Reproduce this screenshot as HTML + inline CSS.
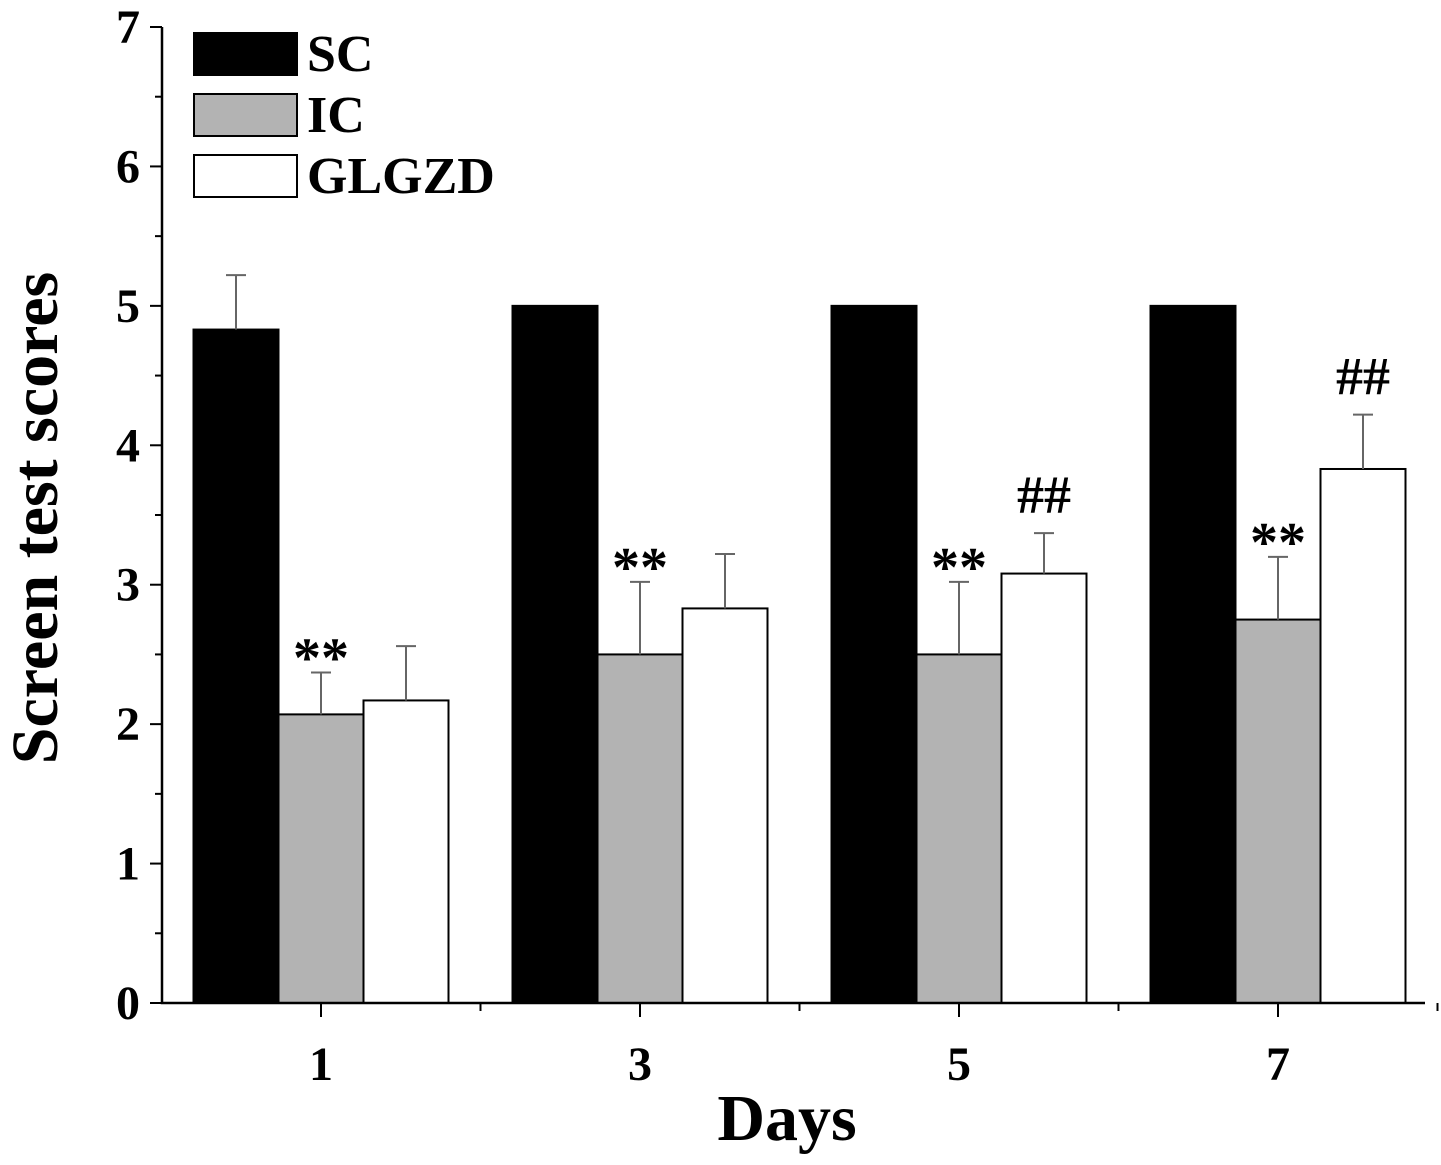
<!DOCTYPE html>
<html><head><meta charset="utf-8"><style>
body{margin:0;background:#fff;}
svg{display:block;font-family:"Liberation Serif",serif;font-weight:bold;}
</style></head><body>
<svg id="chart" width="1441" height="1165" viewBox="0 0 1441 1165">
<g id="bars"></g>
<g id="axes"></g>
<g id="legend"></g>
</svg>
<script>
const categories = ["1","3","5","7"];
const series = ["SC","IC","GLGZD"];
const scValues = [4.83,5,5,5];
const scErr = [5.22,null,null,null];
const icValues = [2.07,2.5,2.5,2.75];
const icErr = [2.37,3.02,3.02,3.2];
const glValues = [2.17,2.83,3.08,3.83];
const glErr = [2.56,3.22,3.37,4.22];
const icMarks = ["**","**","**","**"];
const glMarks = ["","","##","##"];
const yTicks = [0,1,2,3,4,5,6,7];

const NS="http://www.w3.org/2000/svg";
const x0=162,x1=1425,yBase=1003,yTop=27;
function yScale(v){return yBase-(yBase-yTop)*v/7;}
const groupW=319;
function xCenter(i){return 321+groupW*i;}
const barW=85;
function mk(tag,attrs,parent){const e=document.createElementNS(NS,tag);for(const k in attrs)e.setAttribute(k,attrs[k]);parent.appendChild(e);return e;}
const bars=document.getElementById('bars'),axes=document.getElementById('axes'),legend=document.getElementById('legend');
const fills=["#000","#b3b3b3","#fff"];
const vals=[scValues,icValues,glValues],errs=[scErr,icErr,glErr],marks=[null,icMarks,glMarks];
categories.forEach((c,i)=>{
  for(let s=0;s<3;s++){
    const v=vals[s][i];
    const bx=xCenter(i)-1.5*barW+s*barW;
    const r=mk('rect',{x:bx,y:yScale(v),width:barW,height:yBase-yScale(v),fill:fills[s],stroke:"#000","stroke-width":2},bars);
    
    
    const e=errs[s][i];
    if(e!=null){
      const cx=bx+barW/2;
      const l=mk('path',{d:`M${cx},${yScale(v)}V${yScale(e)}M${cx-10},${yScale(e)}H${cx+10}`,stroke:"#666","stroke-width":2,fill:"none"},bars);
      
      
      const m=marks[s]?marks[s][i]:"";
      if(m){
        const t=mk('text',{x:cx,y:yScale(e)+(m=="**"?4:-20),"text-anchor":"middle","font-size":m=="**"?56:54,fill:"#000"},bars);
        t.textContent=m;
        
        
      }
    }
  }
  const tk=mk('line',{x1:xCenter(i),x2:xCenter(i),y1:yBase,y2:yBase+14,stroke:"#000","stroke-width":2},axes);
  
  
  const tl=mk('text',{x:xCenter(i),y:1080,"text-anchor":"middle","font-size":48},axes);
  tl.textContent=c;
  
  
});
for(let i=0;i<=3;i++){
  const x=xCenter(i)+groupW/2;
  const mt=mk('line',{x1:x,x2:x,y1:yBase,y2:yBase+8,stroke:"#000","stroke-width":2},axes);
  
  
}
yTicks.forEach(v=>{
  const y=yScale(v);
  const t=mk('line',{x1:x0-12,x2:x0,y1:y,y2:y,stroke:"#000","stroke-width":2},axes);
  
  
  if(v<7){const m=mk('line',{x1:x0-7,x2:x0,y1:yScale(v+0.5),y2:yScale(v+0.5),stroke:"#000","stroke-width":2},axes);
  
  }
  const l=mk('text',{x:140,y:y+16,"text-anchor":"end","font-size":48},axes);
  l.textContent=v;
  
  
});
const ax=mk('path',{d:`M${x0},${yTop}V${yBase}H${x1}`,stroke:"#000","stroke-width":2.5,fill:"none"},axes);


const yt=mk('text',{x:0,y:0,transform:"translate(57,518) rotate(-90)","text-anchor":"middle","font-size":66},axes);
yt.textContent="Screen test scores";


const xt=mk('text',{x:787,y:1140,"text-anchor":"middle","font-size":66},axes);
xt.textContent="Days";


const ly=[33,94,155];
series.forEach((s,k)=>{
  const r=mk('rect',{x:194,y:ly[k],width:103,height:42,fill:fills[k],stroke:"#000","stroke-width":2},legend);
  
  
  const t=mk('text',{x:307,y:ly[k]+38,"font-size":52},legend);
  t.textContent=s;
  
  
});
</script>
</body></html>
